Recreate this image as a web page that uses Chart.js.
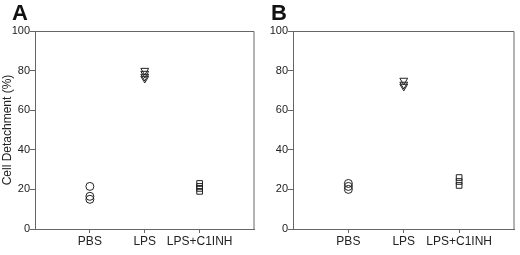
<!DOCTYPE html>
<html>
<head>
<meta charset="utf-8">
<script src="https://cdn.jsdelivr.net/npm/chart.js@4/dist/chart.umd.min.js"></script>
<style>
  body { margin: 0; background: #fff; width: 520px; height: 255px; position: relative; overflow: hidden; }
  .panel { position: absolute; top: 0; width: 260px; height: 255px; }
  .lbl { position: absolute; top: 0; font: bold 22px "Liberation Sans", Arial, sans-serif; color: #111; }
</style>
</head>
<body>
<div class="panel" style="left:0"><canvas id="chartA" width="260" height="255"></canvas></div>
<div class="panel" style="left:260px"><canvas id="chartB" width="260" height="255"></canvas></div>
<div class="lbl" style="left:12px">A</div>
<div class="lbl" style="left:271px">B</div>
<script>
var groups = ['PBS', 'LPS', 'LPS+C1INH'];
var yTicks = [0, 20, 40, 60, 80, 100];

// panel A
var pbsA = [21.5, 16.5, 15];
var lpsA = [80, 78.5, 77, 76];
var inhA = [23, 21.5, 20.5, 19];

// panel B
var pbsB = [23, 21.5, 20];
var lpsB = [75, 73, 72];
var inhB = [26, 24, 22];

var font = '"Liberation Sans", Arial, sans-serif';
var ink = '#222';
var axisCol = '#666';

function pts(x, vals) {
    return vals.map(function (v) { return { x: x, y: v }; });
}

var boxPlugin = {
    id: 'box',
    afterDraw: function (chart) {
        var a = chart.chartArea, c = chart.ctx;
        c.save();
        c.strokeStyle = axisCol;
        c.lineWidth = 1;
        c.beginPath();
        c.moveTo(a.left, a.top + 0.5);
        c.lineTo(a.right - 0.5, a.top + 0.5);
        c.lineTo(a.right - 0.5, a.bottom);
        c.stroke();
        c.restore();
    }
};

function makeChart(id, pbs, lps, inh, showTitle, yWidth) {
    var ds = function (data, style, rot, r) {
        return {
            data: data, pointStyle: style, rotation: rot || 0, pointRadius: r,
            borderColor: ink, backgroundColor: 'rgba(0,0,0,0)', borderWidth: 1, showLine: false
        };
    };
    new Chart(document.getElementById(id), {
        type: 'scatter',
        data: {
            datasets: [
                ds(pts(1, pbs), 'circle', 0, 4),
                ds(pts(2, lps), 'triangle', 180, 4.5),
                ds(pts(3, inh), 'rect', 0, 4)
            ]
        },
        options: {
            responsive: false,
            animation: false,
            events: [],
            layout: { padding: { top: 31, right: 1, left: 0, bottom: 0 } },
            plugins: { legend: { display: false }, tooltip: { enabled: false } },
            scales: {
                x: {
                    type: 'linear', min: 0, max: 4,
                    afterBuildTicks: function (s) { s.ticks = [1, 2, 3].map(function (v) { return { value: v }; }); },
                    afterFit: function (s) { s.height = 26; },
                    grid: { drawOnChartArea: false, drawTicks: true, tickLength: 4, color: axisCol },
                    border: { color: axisCol },
                    ticks: {
                        autoSkip: false, maxRotation: 0, padding: 1, color: ink,
                        font: { family: font, size: 12 },
                        callback: function (v) { return groups[v - 1]; }
                    }
                },
                y: {
                    min: 0, max: 100,
                    afterBuildTicks: function (s) { s.ticks = yTicks.map(function (v) { return { value: v }; }); },
                    afterFit: function (s) { s.width = yWidth; },
                    grid: { drawOnChartArea: false, drawTicks: true, tickLength: 5, color: axisCol },
                    border: { color: axisCol },
                    ticks: { padding: 0, color: ink, font: { family: font, size: 11 } },
                    title: {
                        display: showTitle, text: 'Cell Detachment (%)', color: ink, padding: 0,
                        font: { family: font, size: 12 }
                    }
                }
            }
        },
        plugins: [boxPlugin]
    });
}

makeChart('chartA', pbsA, lpsA, inhA, true, 35);
makeChart('chartB', pbsB, lpsB, inhB, false, 33);
</script>
</body>
</html>
